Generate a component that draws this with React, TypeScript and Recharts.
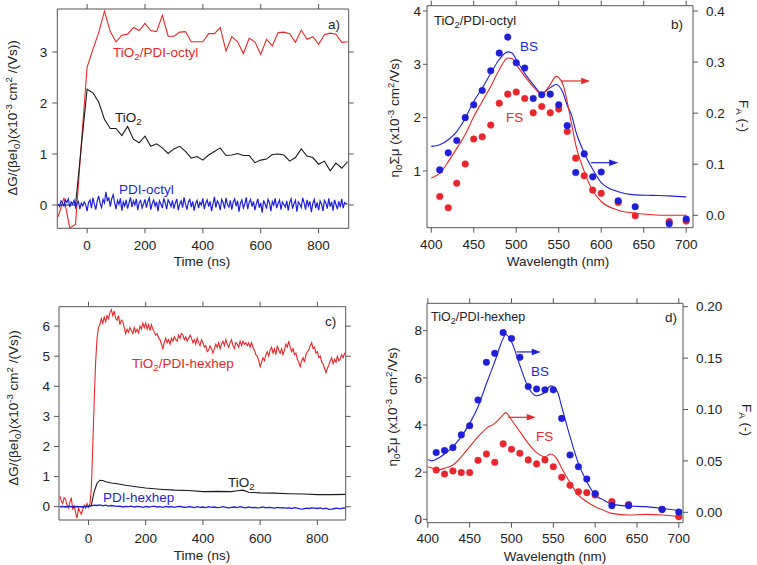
import React from 'react';
import { ComposedChart, Line, XAxis, YAxis, ReferenceLine } from 'recharts';

const RED = '#e8262b';
const BLUE = '#1f1fd8';
const BLACK = '#1a1a1a';
const AXIS = '#555555';
const TEXT = '#222222';
const FONT = '"Liberation Sans", Arial, Helvetica, sans-serif';

// ---------- Panel a (TiO2/PDI-octyl transients) ----------
const A_START = -100;
const A_STEP = 20;
const RED_A = [-0.23, 0.14, -0.45, -0.38, 1.2, 2.7, 3.05, 3.38, 3.8, 3.4, 3.2, 3.33, 3.35, 3.48, 3.42, 3.56, 3.42, 3.4, 3.72, 3.31, 3.31, 3.39, 3.4, 3.2, 3.2, 3.2, 3.36, 3.36, 3.48, 3.02, 3.3, 3.2, 2.97, 3.27, 3.2, 2.95, 3.25, 3.12, 3.38, 3.39, 3.36, 3.19, 3.43, 3.25, 3.3, 3.15, 3.34, 3.37, 3.35, 3.19, 3.2];
const BLACK_A = [0, 0, 0, 0, 1.15, 2.27, 2.2, 2.02, 1.68, 1.5, 1.5, 1.36, 1.54, 1.29, 1.22, 1.35, 1.15, 1.2, 1.12, 1.01, 1.1, 1.15, 1.05, 0.92, 0.95, 0.88, 0.98, 1.05, 1.12, 0.97, 0.98, 1.01, 0.97, 0.97, 0.83, 0.88, 0.9, 0.99, 1.0, 0.98, 0.86, 0.93, 1.1, 0.96, 0.93, 0.8, 0.86, 0.67, 0.82, 0.72, 0.85];
const BLUE_A_STEP = 5;
const BLUE_A = [
  0.02, -0.03, 0.08, 0.04, -0.02, 0.1, 0.05, 0.12, -0.04, 0.06, 0.02, 0.09, -0.05, 0.03, 0.07, -0.08, 0.04, -0.02, 0.06, 0.01,
  -0.12, 0.05, 0.1, -0.06, 0.14, 0.02, -0.09, 0.08, 0.18, 0.03, -0.05, 0.11, 0.04, 0.26, 0.07, 0.15, -0.03, 0.12, 0.2, 0.05,
  -0.08, 0.09, 0.01, 0.13, -0.11, 0.06, -0.02, 0.1, -0.07, 0.04, 0.15, -0.04, 0.08, 0.0, 0.12, -0.1, 0.05, 0.09, -0.06, 0.02,
  0.11, -0.05, 0.07, 0.14, -0.09, 0.03, 0.1, -0.02, 0.06, -0.12, 0.08, 0.02, -0.06, 0.13, 0.04, -0.08, 0.1, 0.05, -0.03, 0.09,
  -0.07, 0.04, 0.12, -0.1, 0.02, 0.08, -0.05, 0.15, 0.01, -0.09, 0.06, 0.11, -0.04, 0.07, -0.11, 0.03, 0.09, -0.06, 0.05, 0.0,
  0.13, -0.08, 0.04, 0.1, -0.03, 0.07, -0.12, 0.02, 0.16, -0.05, 0.08, 0.03, -0.1, 0.11, 0.05, -0.07, 0.14, 0.01, -0.04, 0.09,
  -0.09, 0.06, 0.12, -0.02, 0.08, -0.13, 0.04, 0.1, -0.06, 0.02, 0.15, -0.08, 0.05, 0.11, -0.03, 0.07, -0.1, 0.03, 0.12, -0.05,
  0.04, -0.15, 0.09, 0.02, -0.07, 0.11, 0.05, -0.12, 0.07, 0.0, 0.13, -0.06, 0.03, 0.1, -0.09, 0.06, 0.01, -0.04, 0.08, -0.11,
  0.05, 0.12, -0.07, 0.03, 0.09, -0.13, 0.06, 0.02, -0.05, 0.14, 0.04, -0.09, 0.1, -0.02, 0.07, -0.14, 0.03, 0.11, -0.06, 0.05,
  -0.1, 0.08, 0.02, -0.12, 0.09, 0.04, -0.07, 0.13, -0.03, 0.06, -0.11, 0.1, 0.01, -0.08, 0.07, -0.04, 0.12, -0.06, 0.05, 0.02,
  0.03,
];

// ---------- Panel c (TiO2/PDI-hexhep transients) ----------
const RED_C_STEP = 5;
const RED_C = [
  0.35, 0.2, 0.1, 0.3, 0.25, 0.05, -0.05, 0.15, 0.3, -0.1, 0.05, -0.2, -0.38, -0.05, -0.15, -0.25, -0.1, 0.05, -0.05, 0.1,
  -0.02, 0.1, 0.6, 2.0, 3.5, 4.8, 5.6, 5.95, 6.05, 6.25, 6.1, 6.3, 6.15, 6.35, 6.25, 6.45, 6.55, 6.35, 6.5, 6.25,
  6.2, 6.35, 6.05, 6.2, 6.15, 5.95, 5.75, 5.9, 5.8, 5.95, 5.85, 5.75, 5.95, 5.8, 5.9, 5.75, 6.0, 5.9, 6.1, 5.95,
  6.1, 5.9, 6.05, 5.85, 6.05, 5.9, 5.8, 5.7, 5.75, 5.6, 5.55, 5.4, 5.25, 5.45, 5.6, 5.45, 5.55, 5.4, 5.6, 5.5,
  5.65, 5.55, 5.5, 5.7, 5.6, 5.75, 5.7, 5.55, 5.65, 5.5, 5.6, 5.7, 5.6, 5.45, 5.55, 5.4, 5.6, 5.45, 5.35, 5.55,
  5.45, 5.3, 5.35, 5.15, 5.2, 5.35, 5.25, 5.1, 5.25, 5.4, 5.3, 5.45, 5.25, 5.4, 5.5, 5.35, 5.55, 5.4, 5.3, 5.45,
  5.55, 5.35, 5.25, 5.45, 5.4, 5.3, 5.5, 5.35, 5.5, 5.4, 5.45, 5.35, 5.45, 5.3, 5.45, 5.3, 5.2, 5.05, 5.0, 4.85,
  4.65, 4.8, 4.95, 4.85, 5.05, 5.15, 5.0, 5.2, 5.3, 5.1, 5.25, 5.05, 5.35, 5.2, 5.1, 5.25, 5.05, 5.2, 5.4, 5.3,
  5.5, 5.3, 5.15, 5.25, 5.05, 5.1, 4.9, 4.8, 4.65, 4.85, 4.95, 4.8, 5.05, 5.15, 5.2, 5.35, 5.45, 5.25, 5.3, 5.1,
  5.15, 4.95, 5.0, 4.8, 4.75, 4.6, 4.45, 4.6, 4.7, 4.85, 4.95, 4.75, 4.9, 4.8, 5.0, 4.85, 4.9, 5.05, 4.95, 5.1,
  5.1,
];
const TIME_C_TIO2 = [-100, 0, 10, 20, 30, 40, 50, 60, 80, 100, 130, 160, 200, 250, 300, 350, 400, 450, 500, 520, 540, 560, 600, 650, 700, 750, 800, 850, 900];
const BLACK_C = [0, 0, 0.05, 0.5, 0.78, 0.88, 0.87, 0.83, 0.79, 0.76, 0.71, 0.67, 0.62, 0.58, 0.55, 0.54, 0.5, 0.51, 0.5, 0.53, 0.55, 0.48, 0.46, 0.45, 0.43, 0.42, 0.4, 0.4, 0.41];
const BLUE_C_STEP = 10;
const BLUE_C = [
  0.0, 0.01, -0.01, 0.02, 0.0, -0.02, 0.01, 0.0, -0.01, 0.02,
  0.01, 0.03, 0.05, 0.04, 0.06, 0.03, 0.05, 0.02, 0.04, 0.03,
  0.01, 0.02, -0.01, 0.01, 0.0, 0.02, -0.01, 0.01, 0.0, -0.02,
  0.01, -0.01, 0.0, 0.02, -0.01, 0.0, -0.02, 0.01, -0.01, 0.0,
  -0.02, 0.0, 0.01, -0.01, -0.02, 0.0, -0.01, -0.03, 0.0, -0.02,
  -0.01, -0.03, 0.0, -0.02, -0.01, -0.03, -0.02, 0.0, -0.02, -0.04,
  -0.02, -0.01, -0.03, 0.0, -0.02, -0.04, -0.01, -0.03, -0.02, -0.04,
  -0.03, -0.01, -0.04, -0.02, -0.03, -0.05, -0.02, -0.04, -0.03, -0.05,
  -0.04, -0.06, -0.03, -0.05, -0.07, -0.08, -0.05, -0.06, -0.04, -0.05,
  -0.06, -0.04, -0.07, -0.05, -0.09, -0.08, -0.06, -0.05, -0.07, -0.04,
  -0.05,
];
const TIME_TICKS = [0, 200, 400, 600, 800];

// ---------- Panels b and d (action spectra) ----------
const WL_DOTS = [410, 420, 430, 440, 450, 460, 470, 480, 490, 500, 510, 520, 530, 540, 550, 560, 570, 580, 590, 600, 620, 640, 680, 700];
const BS_B = [1.02, 1.34, 1.57, 2.0, 2.24, 2.51, 2.88, 3.21, 3.51, 3.03, 2.93, 2.36, 2.43, 2.44, 2.24, 1.85, 0.97, 1.32, 0.89, 0.98, 0.44, 0.33, 0.01, 0.1];
const FS_B = [0.52, 0.31, 0.77, 1.13, 1.6, 1.64, 1.86, 2.27, 2.44, 2.48, 2.36, 2.09, 2.21, 2.09, 2.16, 1.74, 1.24, 0.91, 0.64, 0.58, 0.41, 0.16, 0.05, 0.06];
const WL_LINE_B = [400, 410, 420, 430, 440, 450, 460, 470, 480, 490, 495, 500, 510, 520, 530, 540, 547, 555, 560, 565, 570, 580, 590, 600, 620, 640, 660, 680, 700];
const FA_BS_B = [0.135, 0.138, 0.148, 0.164, 0.19, 0.223, 0.249, 0.278, 0.305, 0.32, 0.318, 0.305, 0.278, 0.256, 0.239, 0.25, 0.256, 0.24, 0.215, 0.197, 0.165, 0.122, 0.09, 0.064, 0.046, 0.04, 0.039, 0.038, 0.036];
const FA_FS_B = [0.073, 0.082, 0.105, 0.131, 0.158, 0.193, 0.223, 0.252, 0.285, 0.308, 0.307, 0.295, 0.272, 0.252, 0.237, 0.256, 0.272, 0.256, 0.222, 0.18, 0.138, 0.086, 0.048, 0.027, 0.01, 0.004, 0.001, 0, 0];

const BS_D = [2.83, 2.92, 3.04, 3.58, 3.97, 5.06, 6.66, 7.04, 7.92, 7.67, 6.87, 5.63, 5.53, 5.49, 5.49, 4.28, 2.73, 2.23, 1.71, 1.09, 0.58, 0.58, 0.42, 0.31];
const FS_D = [2.09, 1.92, 2.05, 1.98, 1.98, 2.5, 2.77, 2.42, 3.2, 2.97, 2.8, 2.52, 2.35, 2.52, 2.23, 1.78, 1.44, 1.17, 1.13, 1.03, 0.75, 0.63, 0.42, 0.11];
const WL_LINE_D = [400, 405, 410, 420, 430, 440, 450, 460, 470, 480, 490, 493, 500, 510, 520, 530, 540, 547, 555, 560, 570, 580, 590, 600, 610, 620, 640, 660, 680, 700];
const FA_BS_D = [0.0515, 0.05, 0.0515, 0.0567, 0.0638, 0.0736, 0.0865, 0.1027, 0.125, 0.1465, 0.169, 0.173, 0.166, 0.143, 0.1216, 0.1134, 0.117, 0.123, 0.117, 0.1027, 0.0736, 0.0476, 0.0298, 0.0168, 0.012, 0.008, 0.0061, 0.0055, 0.0039, 0.0016];
const FA_FS_D = [0.0444, 0.043, 0.041, 0.0428, 0.046, 0.054, 0.0638, 0.0736, 0.0817, 0.0865, 0.0947, 0.097, 0.0898, 0.0785, 0.067, 0.058, 0.054, 0.0567, 0.051, 0.0428, 0.0288, 0.0168, 0.0103, 0.0055, 0.002, -0.001, -0.0026, -0.002, -0.0026, -0.0042];
const WL_TICKS = [400, 450, 500, 550, 600, 650, 700];

// arrows (annotation positions in data units)
const ARROW_B_FS = [553, 587, 0.263];
const ARROW_B_BS = [588, 620, 0.103];
const ARROW_D_BS = [506, 535, 0.156];
const ARROW_D_FS = [496, 529, 0.0924];

// ---------- helpers ----------
const stepSeries = (start: number, step: number, ys: number[]) => ys.map((y, i) => ({ x: start + i * step, y }));
const pairSeries = (xs: number[], ys: number[]) => xs.map((x, i) => ({ x, y: ys[i] }));
const blank = () => '';
const TICK = { fill: TEXT, fontSize: 13.5, fontFamily: FONT };
const AX = { stroke: AXIS, strokeWidth: 1 };

const arrowShape = (color: string) => (p: any) => {
  const { x1, y1, x2, y2 } = p;
  return (
    <g>
      <line x1={x1} y1={y1} x2={x2 - 6} y2={y2} stroke={color} strokeWidth={1.2} />
      <polygon points={`${x2},${y2} ${x2 - 9},${y2 - 3.2} ${x2 - 9},${y2 + 3.2}`} fill={color} />
    </g>
  );
};

const Sub = ({ children }: { children: React.ReactNode }) => (
  <span style={{ fontSize: '0.72em', position: 'relative', top: '0.32em' }}>{children}</span>
);
const Sup = ({ children }: { children: React.ReactNode }) => (
  <span style={{ fontSize: '0.72em', position: 'relative', top: '-0.55em' }}>{children}</span>
);

const Txt = ({ x, y, color = TEXT, size = 13.5, center = false, rot = 0, children }: any) => (
  <div
    style={{
      position: 'absolute',
      left: x,
      top: y,
      transform: `translate(${center ? '-50%' : '0'}, -50%) rotate(${rot}deg)`,
      color,
      fontSize: size,
      fontFamily: FONT,
      lineHeight: 1,
      whiteSpace: 'nowrap',
    }}
  >
    {children}
  </div>
);

type PanelProps = {
  left: number; top: number; width: number; height: number;
  wl: number; wr: number; ht: number; hb: number;
  xDomain: [number, number]; xTicks: number[];
  yDomain: [number, number]; yTicks: number[];
  rDomain: [number, number]; rTicks: number[]; rFormat: (v: number) => string;
  lSize: number; lMargin: number; rMargin: number; bMargin: number;
  children: React.ReactNode;
};

const Panel = (p: PanelProps) => (
  <div style={{ position: 'absolute', left: p.left, top: p.top }}>
    <ComposedChart width={p.width} height={p.height} margin={{ top: 0, right: 0, bottom: 0, left: 0 }}>
      <XAxis xAxisId="b" type="number" dataKey="x" domain={p.xDomain} ticks={p.xTicks} allowDataOverflow interval={0}
        height={p.hb} tickSize={5} tickMargin={p.bMargin} tick={TICK} axisLine={AX} tickLine={AX} />
      <XAxis xAxisId="t" orientation="top" type="number" dataKey="x" domain={p.xDomain} ticks={p.xTicks} allowDataOverflow interval={0}
        height={p.ht} tickSize={5} tickFormatter={blank} tick={TICK} axisLine={AX} tickLine={AX} />
      <YAxis yAxisId="l" type="number" domain={p.yDomain} ticks={p.yTicks} allowDataOverflow interval={0}
        width={p.wl} tickSize={p.lSize} tickMargin={p.lMargin} tick={TICK} axisLine={AX} tickLine={AX} />
      <YAxis yAxisId="r" orientation="right" type="number" domain={p.rDomain} ticks={p.rTicks} allowDataOverflow interval={0}
        width={p.wr} tickSize={5} tickMargin={p.rMargin} tickFormatter={p.rFormat} tick={TICK} axisLine={AX} tickLine={AX} />
      {p.children}
    </ComposedChart>
  </div>
);

const dataLine = (key: string, data: any[], color: string, yId = 'l', width = 1, type: any = 'linear') => (
  <Line key={key} xAxisId="b" yAxisId={yId} data={data} dataKey="y" type={type} stroke={color} strokeWidth={width}
    dot={false} activeDot={false} isAnimationActive={false} />
);
const dotLine = (key: string, data: any[], color: string) => (
  <Line key={key} xAxisId="b" yAxisId="l" data={data} dataKey="y" stroke="none" strokeWidth={0}
    dot={{ r: 3.3, fill: color, stroke: color, strokeWidth: 0.5 }} activeDot={false} isAnimationActive={false} />
);
const arrow = (key: string, a: number[], color: string) => (
  <ReferenceLine key={key} xAxisId="b" yAxisId="r" segment={[{ x: a[0], y: a[2] }, { x: a[1], y: a[2] }]}
    shape={arrowShape(color)} ifOverflow="visible" />
);

const YLabelTime = () => (
  <>ΔG/(βeI<Sub>0</Sub>)(x10<Sup>-3</Sup> cm<Sup>2</Sup> /(Vs))</>
);
const YLabelMu = () => (
  <>η<Sub>0</Sub>Σμ (x10<Sup>-3</Sup> cm<Sup>2</Sup>/Vs)</>
);
const FA = () => (<>F<Sub>A</Sub> (-)</>);
const TiO2 = () => (<>TiO<Sub>2</Sub></>);

export default function App() {
  const f1 = (v: number) => v.toFixed(1);
  const f2 = (v: number) => v.toFixed(2);
  return (
    <div style={{ position: 'absolute', left: 0, top: 0, width: 757, height: 565, background: '#fff', overflow: 'hidden' }}>
      {/* Panel a */}
      <Panel left={0} top={0} width={380} height={275} wl={57.3} wr={31.3} ht={9} hb={46.7}
        xDomain={[-103, 904]} xTicks={TIME_TICKS} yDomain={[-0.457, 3.843]} yTicks={[0, 1, 2, 3]}
        rDomain={[-0.457, 3.843]} rTicks={[0, 1, 2, 3]} rFormat={blank as any}
        lSize={5} lMargin={5} rMargin={4} bMargin={7}>
        {dataLine('ra', stepSeries(A_START, A_STEP, RED_A), RED, 'l', 1.1)}
        {dataLine('ka', stepSeries(A_START, A_STEP, BLACK_A), BLACK, 'l', 1.1)}
        {dataLine('ba', stepSeries(A_START, BLUE_A_STEP, BLUE_A), BLUE, 'l', 1.2)}
      </Panel>

      {/* Panel b */}
      <Panel left={378} top={0} width={379} height={275} wl={49} wr={64} ht={5.7} hb={47.3}
        xDomain={[395, 708]} xTicks={WL_TICKS} yDomain={[-0.064, 4.099]} yTicks={[1, 2, 3, 4]}
        rDomain={[-0.0243, 0.4104]} rTicks={[0, 0.1, 0.2, 0.3, 0.4]} rFormat={f1}
        lSize={4} lMargin={2} rMargin={8} bMargin={7}>
        {dataLine('lbs', pairSeries(WL_LINE_B, FA_BS_B), BLUE, 'r', 1.1, 'monotone')}
        {dataLine('lfs', pairSeries(WL_LINE_B, FA_FS_B), RED, 'r', 1.1, 'monotone')}
        {dotLine('dfs', pairSeries(WL_DOTS, FS_B), RED)}
        {dotLine('dbs', pairSeries(WL_DOTS, BS_B), BLUE)}
        {arrow('a1', ARROW_B_FS, RED)}
        {arrow('a2', ARROW_B_BS, BLUE)}
      </Panel>

      {/* Panel c */}
      <Panel left={0} top={280} width={380} height={285} wl={59} wr={34.3} ht={26.7} hb={45}
        xDomain={[-103, 899]} xTicks={TIME_TICKS} yDomain={[-0.442, 6.645]} yTicks={[0, 1, 2, 3, 4, 5, 6]}
        rDomain={[-0.442, 6.645]} rTicks={[0, 1, 2, 3, 4, 5, 6]} rFormat={blank as any}
        lSize={5} lMargin={4} rMargin={4} bMargin={8}>
        {dataLine('rc', stepSeries(-100, RED_C_STEP, RED_C), RED, 'l', 1.1)}
        {dataLine('kc', pairSeries(TIME_C_TIO2, BLACK_C), BLACK, 'l', 1.1)}
        {dataLine('bc', stepSeries(-100, BLUE_C_STEP, BLUE_C), BLUE, 'l', 1.3)}
      </Panel>

      {/* Panel d */}
      <Panel left={378} top={280} width={379} height={285} wl={49} wr={74} ht={23.3} hb={42.3}
        xDomain={[399, 705]} xTicks={WL_TICKS} yDomain={[-0.144, 9.162]} yTicks={[0, 2, 4, 6, 8]}
        rDomain={[-0.0101, 0.2033]} rTicks={[0, 0.05, 0.1, 0.15, 0.2]} rFormat={f2}
        lSize={4} lMargin={1} rMargin={8} bMargin={6}>
        {dataLine('lbsd', pairSeries(WL_LINE_D, FA_BS_D), BLUE, 'r', 1.1, 'monotone')}
        {dataLine('lfsd', pairSeries(WL_LINE_D, FA_FS_D), RED, 'r', 1.1, 'monotone')}
        {dotLine('dfsd', pairSeries(WL_DOTS, FS_D), RED)}
        {dotLine('dbsd', pairSeries(WL_DOTS, BS_D), BLUE)}
        {arrow('a3', ARROW_D_BS, BLUE)}
        {arrow('a4', ARROW_D_FS, RED)}
      </Panel>

      {/* Panel a texts */}
      <Txt x={113} y={53} color={RED}><TiO2 />/PDI-octyl</Txt>
      <Txt x={115} y={118} color={BLACK}><TiO2 /></Txt>
      <Txt x={119} y={190} color={BLUE}>PDI-octyl</Txt>
      <Txt x={328} y={25}>a)</Txt>
      <Txt x={202} y={262} center>Time (ns)</Txt>
      <Txt x={13} y={118} center rot={-90}><YLabelTime /></Txt>

      {/* Panel b texts */}
      <Txt x={434} y={21} size={13}><TiO2 />/PDI-octyl</Txt>
      <Txt x={671} y={25}>b)</Txt>
      <Txt x={520} y={47} color={BLUE}>BS</Txt>
      <Txt x={506} y={118} color={RED}>FS</Txt>
      <Txt x={558} y={262} center>Wavelength (nm)</Txt>
      <Txt x={395} y={118} center rot={-90}><YLabelMu /></Txt>
      <Txt x={743} y={116} center rot={90}><FA /></Txt>

      {/* Panel c texts */}
      <Txt x={132} y={364} color={RED}><TiO2 />/PDI-hexhep</Txt>
      <Txt x={228} y={483} color={BLACK}><TiO2 /></Txt>
      <Txt x={103} y={498} color={BLUE}>PDI-hexhep</Txt>
      <Txt x={325} y={322}>c)</Txt>
      <Txt x={202} y={556} center>Time (ns)</Txt>
      <Txt x={14} y={408} center rot={-90}><YLabelTime /></Txt>

      {/* Panel d texts */}
      <Txt x={431} y={317} size={12.5}><TiO2 />/PDI-hexhep</Txt>
      <Txt x={665} y={318}>d)</Txt>
      <Txt x={531} y={372} color={BLUE}>BS</Txt>
      <Txt x={536} y={437} color={RED}>FS</Txt>
      <Txt x={555} y={557} center>Wavelength (nm)</Txt>
      <Txt x={393} y={407} center rot={-90}><YLabelMu /></Txt>
      <Txt x={746} y={420} center rot={90}><FA /></Txt>
    </div>
  );
}
